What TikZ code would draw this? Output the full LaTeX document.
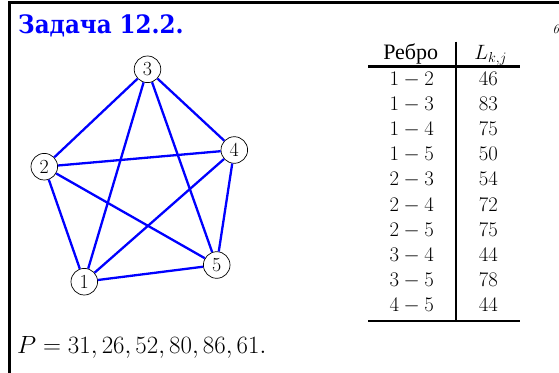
\documentclass[tikz,border=0pt]{standalone}
\usepackage{fontspec}
\newfontfamily\cyrfont{Liberation Serif}
\newfontfamily\titlefont{DejaVu Serif}
\definecolor{myblue}{RGB}{0,0,255}
\tikzset{
  vtx/.style={circle,draw=black,line width=0.7pt,minimum size=26.6pt,inner sep=0pt,fill=white,font=\fontsize{20}{20}\selectfont},
  edgeline/.style={draw=myblue,line width=2.3pt},
  cell/.style={anchor=base,inner sep=0pt,font=\fontsize{21}{25}\selectfont},
  framel/.style={line width=3pt,line join=miter},
  rulel/.style={line width=2.8pt},
  vrule/.style={line width=2pt}
}
\begin{document}
\begin{tikzpicture}[x=1pt,y=-1pt]
\useasboundingbox (0,0) rectangle (559,372);
% frame
\coordinate (fa) at (9.6,390);
\coordinate (fb) at (9.6,2.5);
\coordinate (fc) at (580,2.5);
\draw[framel] (fa) -- (fb) -- (fc);
% title
\node[anchor=base west,inner sep=0pt,text=myblue,font=\fontsize{23}{24}\selectfont\titlefont\bfseries] (title) at (18,33) {\scalebox{1}[1.1]{Задача 12.2.}};
\node[anchor=base west,inner sep=0pt,font=\fontsize{13}{13}\selectfont\itshape] (pg) at (552.5,33.3) {6};
% graph
\node[vtx] (v1) at (84.3,281.7) {1};
\node[vtx] (v2) at (44.3,166.7) {2};
\node[vtx] (v3) at (147.5,69.3) {3};
\node[vtx] (v4) at (234.3,150) {4};
\node[vtx] (v5) at (216.7,265) {5};
\foreach \a/\b in {1/2,1/3,1/4,1/5,2/3,2/4,2/5,3/4,3/5,4/5}
  \draw[edgeline] (v\a) -- (v\b);
% table
\node[cell,font=\fontsize{22}{25}\selectfont\cyrfont] (h1) at (410.7,59.3) {Ребро};
\node[cell] (h2) at (490.7,59.3) {$L_{k,j}$};
\foreach \a/\b/\v [count=\i from 0] in {1/2/46,1/3/83,1/4/75,1/5/50,2/3/54,2/4/72,2/5/75,3/4/44,3/5/78,4/5/44}{
  \node[cell] (e\a\b) at (411.7,85+25.2*\i) {$\a-\b$};
  \node[cell] (w\a\b) at (488.3,85+25.2*\i) {$\v$};
}
\coordinate (tl) at (368,66.7);
\coordinate (tr) at (520,66.7);
\coordinate (bl) at (368,321);
\coordinate (br) at (520,321);
\coordinate (vt) at (455.7,41.7);
\coordinate (vb) at (455.7,321);
\draw[rulel] (tl) -- (tr);
\draw[rulel] (bl) -- (br);
\draw[vrule] (vt) -- (vb);
% P line
\node[anchor=base west,inner sep=0pt,font=\fontsize{23.8}{24}\selectfont] (P) at (17,353) {$P=31,26,52,80,86,61.$};
\end{tikzpicture}
\end{document}
